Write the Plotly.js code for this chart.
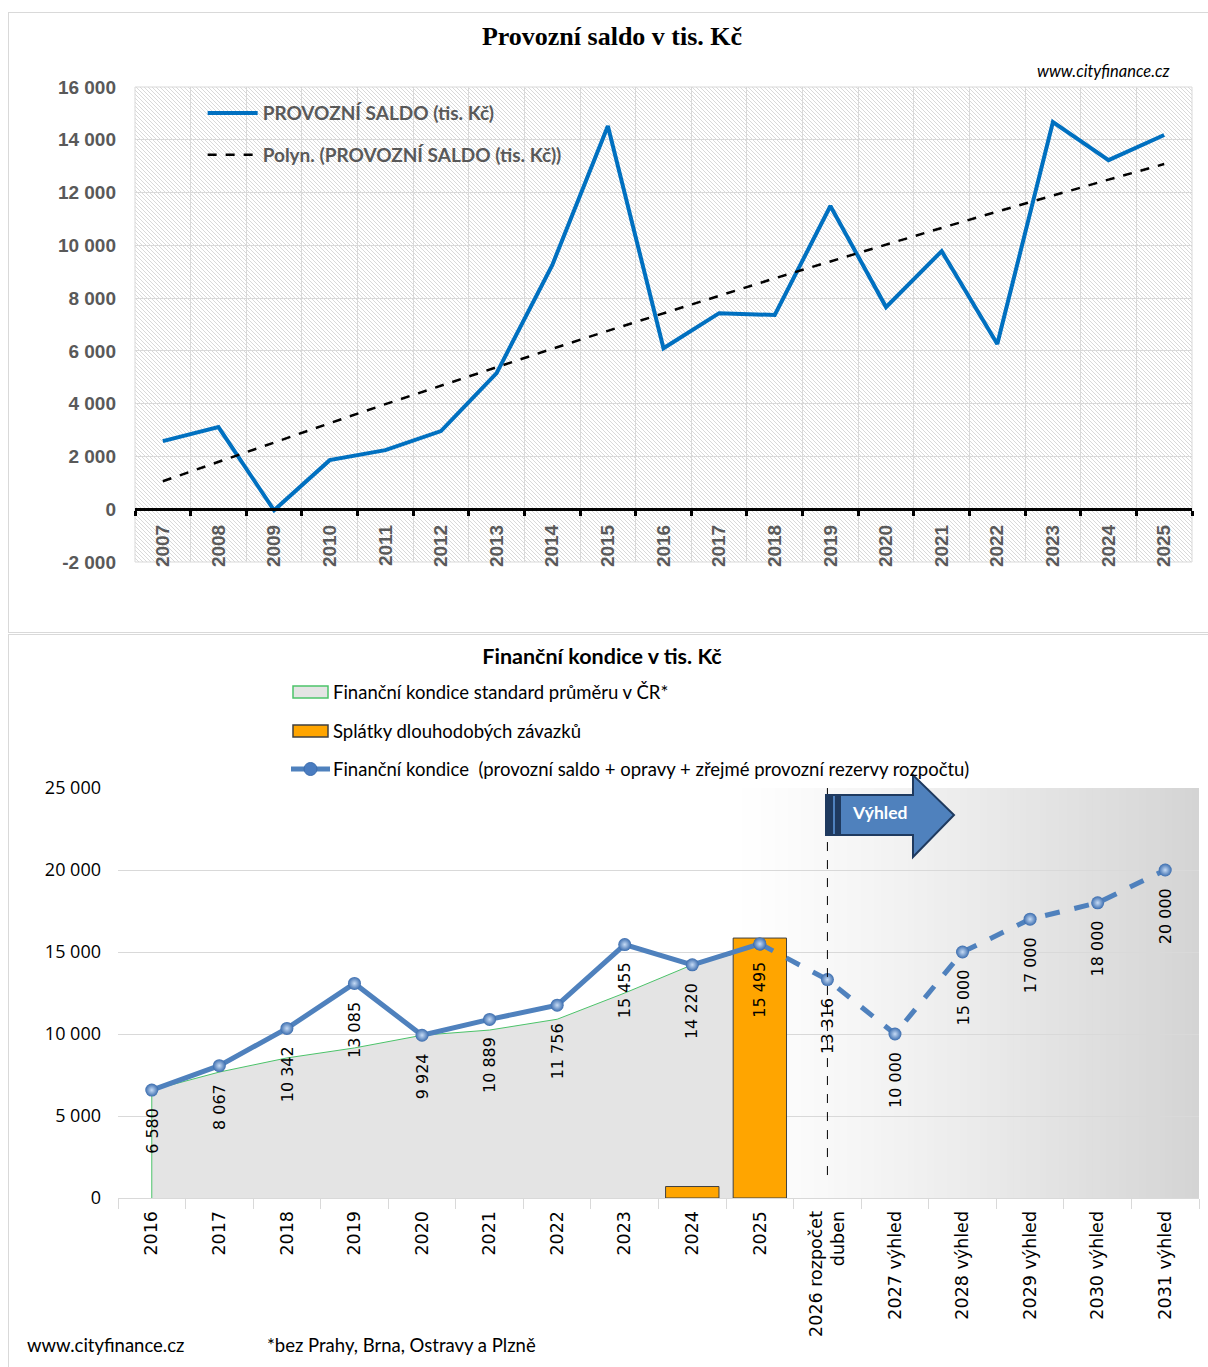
<!DOCTYPE html>
<html><head><meta charset="utf-8">
<script src="https://cdn.plot.ly/plotly-3.0.1.min.js"></script>
<style>
body{margin:0;background:#fff;width:1208px;height:1367px;overflow:hidden;position:relative;}
#top{position:absolute;left:8px;top:12px;width:1199px;height:619px;border:1px solid #d9d9d9;border-right:none;}
#bot{position:absolute;left:8px;top:634px;width:1199px;height:732px;border:1px solid #d9d9d9;border-right:none;border-bottom:none;}
</style></head>
<body>
<div id="top"></div>
<div id="bot"></div>
<script>
// ---------- data: top chart ----------
const years = ['2007','2008','2009','2010','2011','2012','2013','2014','2015','2016','2017','2018','2019','2020','2021','2022','2023','2024','2025'];
const provozniSaldo = [2580, 3110, -40, 1860, 2240, 2960, 5160, 9250, 14520, 6100, 7430, 7360, 11490, 7660, 9780, 6260, 14670, 13230, 14180];
const polynTrend = [1060, 1800, 2540, 3260, 3980, 4690, 5390, 6080, 6760, 7430, 8090, 8750, 9390, 10030, 10660, 11280, 11890, 12490, 13080];
const topTicks = [-2000, 0, 2000, 4000, 6000, 8000, 10000, 12000, 14000, 16000];

// ---------- data: bottom chart ----------
const kondiceCats = ['2016','2017','2018','2019','2020','2021','2022','2023','2024','2025','2026 rozpočet<br>duben','2027 výhled','2028 výhled','2029 výhled','2030 výhled','2031 výhled'];
const kondice = [6580, 8067, 10342, 13085, 9924, 10889, 11756, 15455, 14220, 15495, 13316, 10000, 15000, 17000, 18000, 20000];
const standardCR = [6580, 7680, 8540, 9150, 9924, 10240, 10900, 12500, 14220, 15300];
const splatkyCats = ['2024','2025'];
const splatky = [700, 15850];
const botTicks = [0, 5000, 10000, 15000, 20000, 25000];
const legendNames = ['Finanční kondice standard průměru v ČR*', 'Splátky dlouhodobých závazků',
                     'Finanční kondice  (provozní saldo + opravy + zřejmé provozní rezervy rozpočtu)'];

const fmt = v => (v < 0 ? '-' : '') + Math.abs(v).toString().replace(/\B(?=(\d{3})+(?!\d))/g, ' ');

// ---------- top chart ----------
const W1 = 1057, H1 = 475;
function hatchPath(W, H, s) {
  let d = '';
  for (let k = -H; k < W; k += s) {
    const t0 = Math.max(0, -k), t1 = Math.min(H, W - k);
    if (t1 <= t0) continue;
    d += 'M' + ((k + t0) / W).toFixed(5) + ',' + (1 - t0 / H).toFixed(5) +
         'L' + ((k + t1) / W).toFixed(5) + ',' + (1 - t1 / H).toFixed(5);
  }
  return d;
}
const topFont = {family: 'Liberation Sans, Arial, sans-serif', size: 19, color: '#595959', weight: 'bold'};

Plotly.newPlot('top', [
  {type: 'scatter', mode: 'lines', x: years, y: provozniSaldo, name: 'PROVOZNÍ SALDO (tis. Kč)',
   line: {color: '#0070C0', width: 4}, legendgroup: 'a'},
  {type: 'scatter', mode: 'lines', x: years, y: polynTrend, name: 'Polyn. (PROVOZNÍ SALDO (tis. Kč))',
   line: {color: '#000000', width: 2.5, dash: 'dash'}, legendgroup: 'b'}
], {
  width: 1199, height: 619,
  margin: {l: 126, r: 16, t: 74, b: 70},
  paper_bgcolor: '#ffffff', plot_bgcolor: 'rgba(0,0,0,0)',
  title: {text: '<b>Provozní saldo v tis. Kč</b>', font: {family: 'Liberation Serif, serif', size: 26, color: '#000'},
          xref: 'container', x: (612 - 9) / 1199, xanchor: 'center', yref: 'container', y: 1 - 23 / 619, yanchor: 'middle'},
  xaxis: {type: 'category', range: [-0.5, 18.5], anchor: 'free', position: 2000 / 18000,
          showline: true, linecolor: '#000', linewidth: 3, ticks: 'outside', ticklen: 5, tickwidth: 3, tickcolor: '#000',
          tickson: 'boundaries', showgrid: true, gridcolor: '#d9d9d9', gridwidth: 1, tickangle: -90,
          tickfont: topFont, ticklabelstandoff: 6},
  yaxis: {range: [-2000, 16000], tickvals: topTicks, ticktext: topTicks.map(fmt), showgrid: true, gridcolor: '#d9d9d9',
          zeroline: false, tickfont: topFont, ticklabelstandoff: 18, ticks: ''},
  legend: {x: 0.064, y: 0.985, xanchor: 'left', yanchor: 'top', bgcolor: 'rgba(0,0,0,0)', itemwidth: 50,
           traceorder: 'grouped', tracegroupgap: 14,
           font: {family: 'Lato, sans-serif', size: 19, color: '#595959', weight: 'bold'}},
  shapes: [
    {type: 'path', xref: 'paper', yref: 'paper', path: hatchPath(W1, H1, 4), line: {color: '#d9d9d9', width: 1}, layer: 'below'},
    {type: 'rect', xref: 'paper', yref: 'paper', x0: 0, x1: 1, y0: 0, y1: 1, line: {color: '#d9d9d9', width: 1}, layer: 'below'}
  ],
  annotations: [
    {xref: 'paper', yref: 'paper', x: 0.981, y: 1.034, xanchor: 'right', yanchor: 'middle', showarrow: false,
     text: '<i>www.cityfinance.cz</i>', font: {family: 'Lato, sans-serif', size: 16.5, color: '#000'}}
  ],
  showlegend: true
}, {displayModeBar: false, staticPlot: true});

// ---------- bottom chart ----------
const PX0 = 118, PW = 1081, PY0 = 1198, PH = 410;
const X = px => (px - PX0) / PW;
const Y = py => (PY0 - py) / PH;

const shapesB = [];
// outlook gradient background
const gStart = X(735), N = 70;
for (let i = 0; i < N; i++) {
  const x0 = gStart + (1 - gStart) * i / N;
  const x1 = Math.min(1, gStart + (1 - gStart) * (i + 1) / N + 0.0015);
  const t = (i + 0.5) / N;
  const c = Math.round(255 - 43 * Math.pow(t, 1.15));
  shapesB.push({type: 'rect', xref: 'paper', yref: 'paper', x0: x0, x1: x1, y0: 0, y1: 1,
                fillcolor: 'rgb(' + c + ',' + c + ',' + c + ')', line: {width: 0}, layer: 'below'});
}
// vertical dashed separator at 2026
shapesB.push({type: 'line', xref: 'x', yref: 'y', x0: 10, x1: 10, y0: 1400, y1: 25200,
              line: {color: '#000', width: 1, dash: 'dash'}, layer: 'above'});
// arrow "Výhled"
const arrowPts = [[826, 795], [913, 795], [913, 775], [954, 815], [913, 857], [913, 835], [826, 835]];
shapesB.push({type: 'path', xref: 'paper', yref: 'paper',
  path: 'M' + arrowPts.map(p => X(p[0]).toFixed(5) + ',' + Y(p[1]).toFixed(5)).join('L') + 'Z',
  fillcolor: '#4f81bd', line: {color: '#1f3a5f', width: 2}, layer: 'above'});
shapesB.push({type: 'rect', xref: 'paper', yref: 'paper', x0: X(826), x1: X(833), y0: Y(835), y1: Y(795),
  fillcolor: '#1f3a5f', line: {width: 0}, layer: 'above'});
shapesB.push({type: 'rect', xref: 'paper', yref: 'paper', x0: X(835), x1: X(841), y0: Y(835), y1: Y(795),
  fillcolor: '#1f3a5f', line: {width: 0}, layer: 'above'});

// custom legend symbols
shapesB.push({type: 'rect', xref: 'paper', yref: 'paper', x0: X(293), x1: X(328), y0: Y(698), y1: Y(686),
  fillcolor: '#e4e4e4', line: {color: '#4cc36a', width: 1.5}, layer: 'above'});
shapesB.push({type: 'rect', xref: 'paper', yref: 'paper', x0: X(293), x1: X(328), y0: Y(737), y1: Y(725),
  fillcolor: '#FFA500', line: {color: '#404040', width: 1.5}, layer: 'above'});
shapesB.push({type: 'line', xref: 'paper', yref: 'paper', x0: X(291), x1: X(330), y0: Y(769), y1: Y(769),
  line: {color: '#4f81bd', width: 5}, layer: 'above'});
shapesB.push({type: 'circle', xref: 'paper', yref: 'paper', x0: X(304), x1: X(317), y0: Y(775.5), y1: Y(762.5),
  fillcolor: '#4a7cc0', line: {color: '#3a6cae', width: 1}, layer: 'above'});

const annB = kondice.map((v, i) => ({
  xref: 'x', yref: 'y', x: i, y: v, text: fmt(v), textangle: -90, xanchor: 'center', yanchor: 'top', yshift: -16,
  showarrow: false, font: {family: 'DejaVu Sans, sans-serif', size: 16, color: '#000'}
}));
[692, 731, 769].forEach((py, i) => annB.push({xref: 'paper', yref: 'paper', x: X(331), y: Y(py), text: legendNames[i],
  showarrow: false, xanchor: 'left', yanchor: 'middle', font: {family: 'Lato, sans-serif', size: 18.5, color: '#000'}}));
annB.push({xref: 'paper', yref: 'paper', x: X(879), y: Y(812), text: '<b>Výhled</b>', showarrow: false,
  xanchor: 'center', yanchor: 'middle', font: {family: 'Lato, sans-serif', size: 17.5, color: '#ffffff'}});
annB.push({xref: 'paper', yref: 'paper', x: X(25), y: Y(1345), text: 'www.cityfinance.cz', showarrow: false,
  xanchor: 'left', yanchor: 'middle', font: {family: 'Lato, sans-serif', size: 18.5, color: '#000'}});
annB.push({xref: 'paper', yref: 'paper', x: X(265), y: Y(1345), text: '*bez Prahy, Brna, Ostravy a Plzně', showarrow: false,
  xanchor: 'left', yanchor: 'middle', font: {family: 'Lato, sans-serif', size: 18.5, color: '#000'}});

const catAxis = {type: 'category', categoryorder: 'array', categoryarray: kondiceCats, range: [-0.5, 15.5]};

Plotly.newPlot('bot', [
  {type: 'scatter', mode: 'lines', x: [kondiceCats[0]].concat(kondiceCats.slice(0, standardCR.length)),
   y: [0].concat(standardCR), fill: 'tozeroy', fillcolor: '#e4e4e4', line: {color: '#4cc36a', width: 1},
   name: legendNames[0], showlegend: false},
  {type: 'bar', x: splatkyCats, y: splatky, xaxis: 'x2', yaxis: 'y2',
   marker: {color: '#FFA500', line: {color: '#404040', width: 1}},
   name: legendNames[1], showlegend: false},
  {type: 'scatter', mode: 'lines+markers', x: kondiceCats.slice(0, 10), y: kondice.slice(0, 10), xaxis: 'x2', yaxis: 'y2',
   line: {color: '#4f81bd', width: 5},
   marker: {size: 13, color: '#3a6cae', gradient: {type: 'radial', color: '#c6dbf5'}},
   name: legendNames[2], showlegend: false},
  {type: 'scatter', mode: 'lines+markers', x: kondiceCats.slice(9), y: kondice.slice(9), xaxis: 'x2', yaxis: 'y2',
   line: {color: '#4f81bd', width: 5, dash: 'dash'},
   marker: {size: 13, color: '#3a6cae', gradient: {type: 'radial', color: '#c6dbf5'}},
   name: legendNames[2], showlegend: false}
], {
  width: 1199, height: 732,
  margin: {l: 109, r: 9, t: 153, b: 169},
  paper_bgcolor: '#ffffff', plot_bgcolor: 'rgba(0,0,0,0)',
  bargap: 0.21,
  title: {text: '<b>Finanční kondice v tis. Kč</b>', font: {family: 'Lato, sans-serif', size: 21.5, color: '#000'},
          xref: 'container', x: (602 - 9) / 1199, xanchor: 'center', yref: 'container', y: 1 - 21 / 732, yanchor: 'middle'},
  xaxis: Object.assign({}, catAxis, {showline: true, linecolor: '#d9d9d9', ticks: 'outside', ticklen: 10, tickcolor: '#d9d9d9',
          tickson: 'boundaries', showgrid: false, tickangle: -90, ticklabelstandoff: 5,
          tickfont: {family: 'DejaVu Sans, sans-serif', size: 17.5, color: '#000'}}),
  yaxis: {range: [0, 25000], tickvals: botTicks, ticktext: botTicks.map(fmt), showgrid: true, gridcolor: '#d9d9d9',
          zeroline: false, ticks: '', ticklabelstandoff: 16,
          tickfont: {family: 'Open Sans, sans-serif', size: 18, color: '#000'}},
  xaxis2: Object.assign({}, catAxis, {overlaying: 'x', visible: false}),
  yaxis2: {range: [0, 25000], overlaying: 'y', visible: false},
  shapes: shapesB,
  annotations: annB,
  showlegend: false
}, {displayModeBar: false, staticPlot: true});
</script>
</body></html>
